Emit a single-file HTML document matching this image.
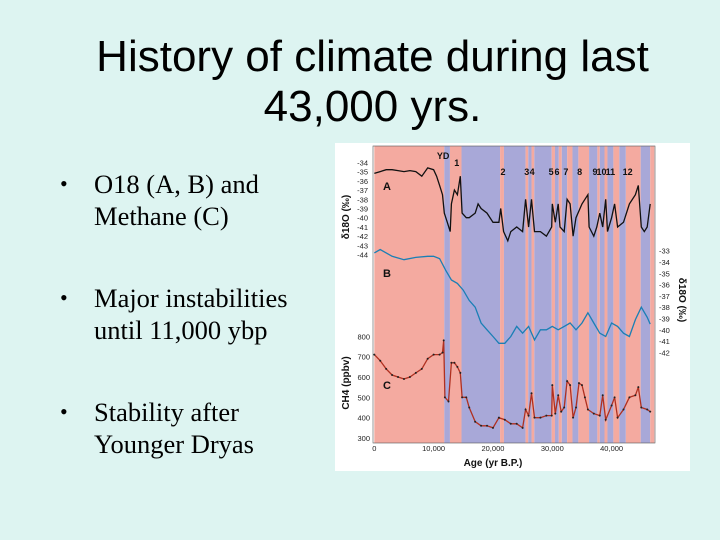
<!DOCTYPE html>
<html><head><meta charset="utf-8">
<style>
body{margin:0;width:720px;height:540px;background:#ddf4f1;position:relative;overflow:hidden;font-family:"Liberation Sans",sans-serif}
.title{position:absolute;left:0;width:745px;top:32px;text-align:center;font-size:44px;line-height:50px;color:#000;white-space:nowrap}
.bul{position:absolute;left:60px;font-family:"Liberation Serif",serif;font-size:26.5px;line-height:32px;color:#000;white-space:nowrap}
.bul span.d{position:absolute;left:0;font-size:22px}
.bul div{margin-left:34px}
</style></head><body>
<div class="title">History of climate during last<br>43,000 yrs.</div>
<div class="bul" style="top:168px"><span class="d">•</span><div>O18 (A, B) and<br>Methane (C)</div></div>
<div class="bul" style="top:282px"><span class="d">•</span><div>Major instabilities<br>until 11,000 ybp</div></div>
<div class="bul" style="top:396px"><span class="d">•</span><div>Stability after<br>Younger Dryas</div></div>
<svg id="chart" width="720" height="540" style="position:absolute;left:0;top:0"></svg>
<script>
const bandEdges=[0,11.8,12.75,14.7,21.2,21.85,25.5,25.95,26.5,26.97,29.9,30.45,31.1,31.6,32.5,33.4,34.4,36.2,37.6,38.0,38.8,39.3,40.3,41.3,42.4,44.9,46.5,47.2];
const eventLabels=["YD","1","2","3","4","5","6","7","8","9","10","11","12"];
const eventAges=[11.6,13.9,21.7,25.7,26.6,29.8,30.8,32.3,34.6,37.2,38.3,39.8,42.7];
const ageA=[0,1,2,3,4,5,6,7,8,9,10,10.5,11,11.5,11.8,12.3,12.8,13,13.5,14,14.5,14.8,15.5,16,17,17.5,18,19,20,21,21.3,21.8,22.5,23,24,25,25.5,26,26.5,27,28,29,29.9,30,30.5,31,31.3,32,32.5,33,33.5,34,35,36,36.2,37,37.5,38,38.5,39,39.3,40,40.5,41,42,43,44,44.5,45,45.5,46,46.5];
const valA=[-35.2,-35,-34.8,-34.8,-34.9,-35,-34.9,-35,-35.5,-34.6,-34.8,-35.5,-36.5,-37.5,-39.5,-40.5,-41.5,-38.5,-37,-37.5,-35.5,-39.5,-40,-40,-39.5,-38.5,-39,-39.5,-40.5,-40.5,-39,-41.5,-42.5,-41.5,-41,-41.5,-38,-41,-38,-41.5,-41.5,-42,-41,-38.5,-40.5,-38.5,-41,-41.5,-38,-38.5,-42,-40,-38.5,-37.5,-41,-42,-41,-39.5,-41,-38,-41.5,-40,-38.5,-41,-40.5,-38.5,-37.5,-36.5,-41,-41.5,-41,-38.5];
const ageB=[0,1,2,3,5,7,9,10,11,12,13,14,15,16,17,18,19,20,21,22,23,24,25,26,27,28,29,30,31,32,33,34,35,36,37,38,39,40,41,42,43,44,45,46,46.5];
const valB=[-33.2,-32.9,-33.2,-33.5,-33.8,-33.6,-33.5,-33.5,-33.7,-34.7,-35.6,-35.9,-36.5,-37.4,-38,-39.4,-40,-40.6,-41.2,-41.2,-40.6,-39.7,-40.3,-39.7,-40.9,-40,-40,-39.7,-40,-39.7,-39.4,-40,-39.4,-38.5,-39.4,-40.3,-40.6,-39.4,-39.7,-40.3,-40.6,-39.1,-38,-38.9,-39.5];
const ageC=[0,1,2,3,4,5,6,7,8,9,10,11,11.5,11.7,11.9,12.5,13,13.5,14,14.5,14.8,15.5,16,17,18,19,20,21,22,23,24,25,25.5,26,26.5,27,28,29,29.9,30,30.5,31,31.5,32,32.5,33,33.5,34,34.5,35,35.5,36,37,38,38.5,39,40,40.5,41,42,43,44,44.5,45,46,46.5];
const valC=[710,680,640,610,600,590,600,620,640,690,710,710,720,780,500,480,670,670,650,620,500,500,450,380,360,360,350,400,390,370,370,350,440,410,520,400,400,410,410,560,420,510,430,450,580,560,400,450,570,560,500,440,420,410,510,390,460,500,400,440,500,510,550,450,440,430];
const xTicks=[0,10,20,30,40];
const xTickLabels=["0","10,000","20,000","30,000","40,000"];
const aTicks=[-34,-35,-36,-37,-38,-39,-40,-41,-42,-43,-44];
const bTicks=[-33,-34,-35,-36,-37,-38,-39,-40,-41,-42];
const cTicks=[800,700,600,500,400,300];

const NS="http://www.w3.org/2000/svg";
const svg=document.getElementById('chart');
function mk(t,a,txt){const e=document.createElementNS(NS,t);for(const k in a)e.setAttribute(k,a[k]);if(txt!==undefined)e.textContent=txt;svg.appendChild(e);return e;}
const X=k=>374.3+k*5.933;
const YA=v=>143+(58+(-34-v)*27.7)/3;
const YB=v=>143+(323+(-33-v)*33.9)/3;
const YC=v=>143+(580+(800-v)*0.61)/3;
const PT=146,PB=443,PR=655;

let e=mk('rect',{x:335,y:143,width:355,height:328,fill:'#fff'});

for(let i=0;i<bandEdges.length-1;i++){
 const x0=X(bandEdges[i]),x1=Math.min(X(bandEdges[i+1]),PR);
 e=mk('rect',{x:x0,y:PT,width:x1-x0,height:PB-PT,fill:i%2===0?'#f4aaa0':'#a8a8d8'});
 
 
}
e=mk('rect',{x:373,y:PT,width:PR-373,height:PB-PT,fill:'none',stroke:'#555','stroke-width':0.6});

eventLabels.forEach((l,i)=>{e=mk('text',{x:X(eventAges[i]),y:i<2?(i===0?159:166):175,'font-size':9,'font-weight':'bold','text-anchor':'middle',fill:'#111'},l);
 });
function line(ages,vals,f,col,name){
 const d=ages.map((a,i)=>(i?'L':'M')+X(a).toFixed(1)+','+f(vals[i]).toFixed(1)).join('');
 e=mk('path',{d:d,fill:'none',stroke:col,'stroke-width':1.3});
 
}
line(ageA,valA,YA,'#111','series-a-line');
line(ageB,valB,YB,'#1a7fb5','series-b-line');
line(ageC,valC,YC,'#b03020','series-c-line');
ageC.forEach((a,i)=>{e=mk('circle',{cx:X(a),cy:YC(valC[i]),r:1,fill:'#222'});
 });
[['A',383,190],['B',383,277],['C',383,389]].forEach(([t,x,y])=>{e=mk('text',{x:x,y:y,'font-size':11,'font-weight':'bold',fill:'#111'},t);
 });
aTicks.forEach(v=>{e=mk('text',{x:368,y:YA(v)+3,'font-size':7.5,'text-anchor':'end',fill:'#222'},String(v));
 });
bTicks.forEach(v=>{e=mk('text',{x:659,y:YB(v)+3,'font-size':7.5,fill:'#222'},String(v));
 });
cTicks.forEach(v=>{e=mk('text',{x:370,y:YC(v)+3,'font-size':7.5,'text-anchor':'end',fill:'#222'},String(v));
 });
xTicks.forEach((v,i)=>{e=mk('text',{x:X(v),y:451,'font-size':7.5,'text-anchor':'middle',fill:'#222'},xTickLabels[i]);
 });
e=mk('text',{x:X(20),y:466,'font-size':10,'font-weight':'bold','text-anchor':'middle',fill:'#111'},'Age (yr B.P.)');

e=mk('text',{x:0,y:0,'font-size':10,'font-weight':'bold','text-anchor':'middle',fill:'#111',transform:'translate(349,217) rotate(-90)'},'δ18O (‰)');

e=mk('text',{x:0,y:0,'font-size':10,'font-weight':'bold','text-anchor':'middle',fill:'#111',transform:'translate(679,300) rotate(90)'},'δ18O (‰)');

e=mk('text',{x:0,y:0,'font-size':10,'font-weight':'bold','text-anchor':'middle',fill:'#111',transform:'translate(349,383) rotate(-90)'},'CH4 (ppbv)');

</script>
</body></html>
